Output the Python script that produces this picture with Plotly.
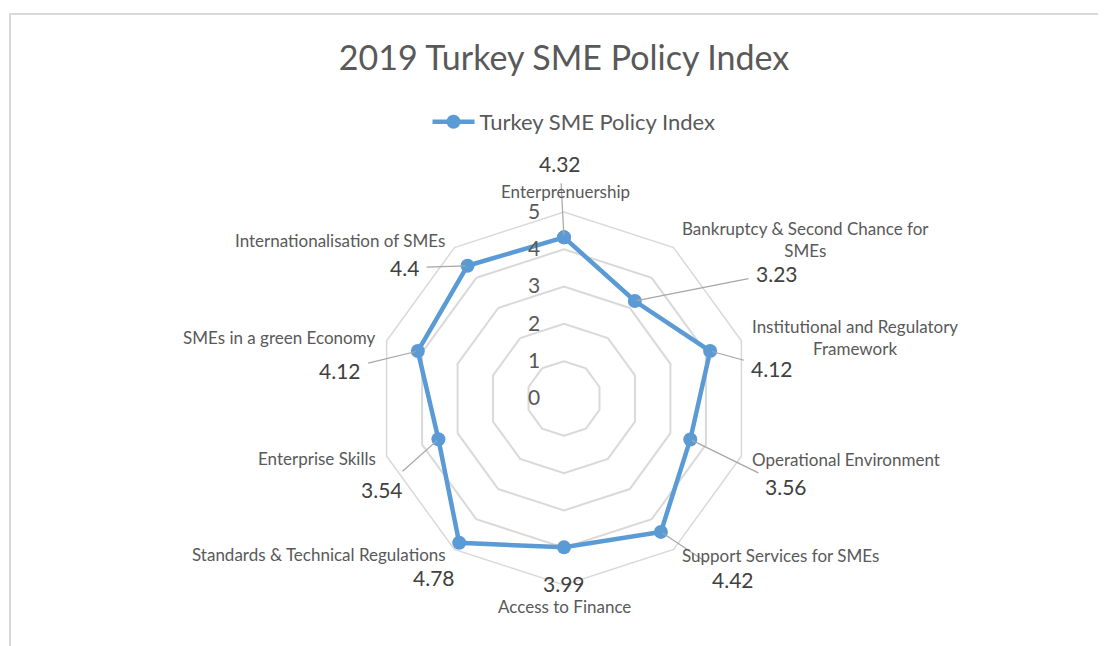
import math
import plotly.graph_objects as go

# ---- data ----
categories = [
    "Enterprenuership",
    "Bankruptcy & Second Chance for<br>SMEs",
    "Institutional and Regulatory<br>Framework",
    "Operational Environment",
    "Support Services for SMEs",
    "Access to Finance",
    "Standards & Technical Regulations",
    "Enterprise Skills",
    "SMEs in a green Economy",
    "Internationalisation of SMEs",
]
values = [4.32, 3.23, 4.12, 3.56, 4.42, 3.99, 4.78, 3.54, 4.12, 4.4]
value_labels = ["4.32", "3.23", "4.12", "3.56", "4.42", "3.99", "4.78", "3.54", "4.12", "4.4"]
series_name = "Turkey SME Policy Index"
title_text = "2019 Turkey SME Policy Index"
radial_ticks = [0, 1, 2, 3, 4, 5]

# ---- layout geometry (reference pixels; page body has an 8px margin) ----
OFF = 8
W, H = 1106 - OFF, 646 - OFF
CX, CY, R = 564 - OFF, 398.5 - OFF, 186.5   # polar centre / radius in figure pixels
RMAX = 5
# data-label offsets (pixels) from each point to its label
label_dx = [-4, 142, 62, 96, 72, 0, -25, -56, -78, -63]
label_dy = [-74, -28, 17, 47, 48, 36, 35, 50, 19, 2]
leader = [True, True, True, True, True, False, False, True, True, True]
# category-label offsets (pixels) from the outer vertex, and anchors
cat_dx = [1, 6, 9, 9, 6, 0, -6, -9, -9, -7]
cat_dy = [-21, -8, -3, 3, 6, 21, 5, 2, -3, -7]
cat_anchor = ["center", "left", "left", "left", "left",
              "center", "right", "right", "right", "right"]

BLUE = "#5B9BD5"
GRID = "#D9D9D9"
FONT = "Lato"

fig = go.Figure()
fig.add_trace(go.Scatterpolar(
    r=values + [values[0]],
    theta=categories + [categories[0]],
    mode="lines+markers",
    name=series_name,
    line=dict(color=BLUE, width=4.5),
    marker=dict(color=BLUE, size=14),
    cliponaxis=False,
))


def to_paper(r, i):
    ang = math.radians(360.0 * i / len(categories))
    px = CX + (r / RMAX) * R * math.sin(ang)
    py = CY - (r / RMAX) * R * math.cos(ang)
    return px / W, 1 - py / H


annotations = []
for i, v in enumerate(values):
    x, y = to_paper(v, i)
    annotations.append(dict(
        x=x, y=y, xref="paper", yref="paper",
        text=value_labels[i], showarrow=True,
        ax=label_dx[i], ay=label_dy[i],
        arrowhead=0, arrowwidth=1.2,
        arrowcolor="#A6A6A6" if leader[i] else "rgba(0,0,0,0)",
        font=dict(family=FONT, size=21, color="#404040"),
        standoff=2, startstandoff=6,
    ))
for i, c in enumerate(categories):
    x, y = to_paper(RMAX, i)
    annotations.append(dict(
        x=x, y=y, xref="paper", yref="paper", text=c, showarrow=False,
        xanchor=cat_anchor[i], yanchor="middle", align="center",
        xshift=cat_dx[i], yshift=-cat_dy[i],
        font=dict(family=FONT, size=17, color="#595959"),
    ))

fig.update_layout(
    width=W, height=H,
    margin=dict(l=0, r=0, t=0, b=0),
    paper_bgcolor="white",
    font=dict(family=FONT, color="#595959"),
    title=dict(text=title_text, x=CX / W, xanchor="center",
               y=1 - (58 - OFF) / H, yanchor="middle",
               font=dict(family=FONT, size=34, color="#595959")),
    showlegend=True,
    legend=dict(orientation="h", x=(574 - OFF) / W, xanchor="center",
                y=1 - (122 - OFF) / H, yanchor="middle", itemwidth=42,
                font=dict(family=FONT, size=22, color="#595959")),
    polar=dict(
        domain=dict(x=[(CX - R) / W, (CX + R) / W],
                    y=[1 - (CY + R) / H, 1 - (CY - R) / H]),
        bgcolor="white",
        gridshape="linear",
        radialaxis=dict(range=[0, RMAX], tickvals=radial_ticks,
                        angle=90, side="counterclockwise", tickangle=90,
                        showline=False, gridcolor=GRID, gridwidth=1.5,
                        ticks="outside", ticklen=16, tickcolor="rgba(0,0,0,0)",
                        tickfont=dict(family=FONT, size=21, color="#595959")),
        angularaxis=dict(rotation=90, direction="clockwise",
                         showgrid=False, showline=True, linecolor=GRID, linewidth=1.5,
                         ticks="", showticklabels=False),
    ),
    annotations=annotations,
    shapes=[dict(type="rect", xref="paper", yref="paper",
                 x0=(10 - OFF) / W, x1=1.2, y0=-0.2, y1=1 - (14 - OFF) / H,
                 line=dict(color=GRID, width=2))],
)

fig.write_html("out.html")
